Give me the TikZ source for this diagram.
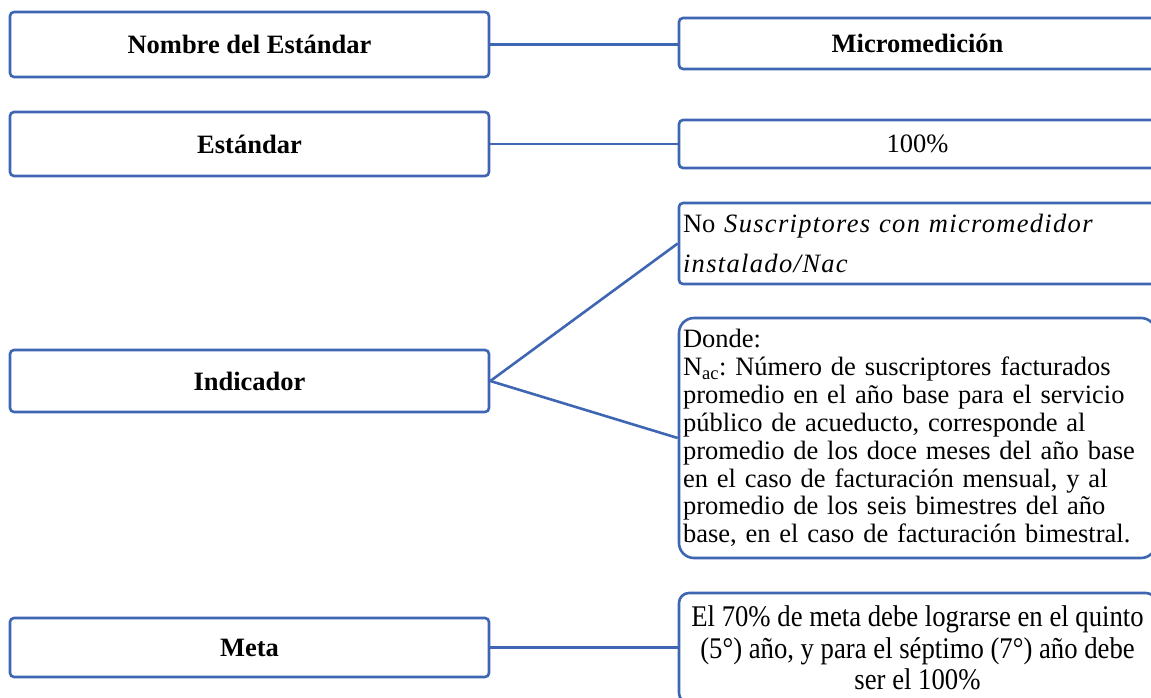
\documentclass[tikz,border=0pt]{standalone}
\usepackage{fontspec}
\setmainfont{Liberation Serif}
\newfontfamily\narrowfont[FakeStretch=0.89]{Liberation Serif}
\newfontfamily\spacedit[LetterSpace=5]{Liberation Serif}
\definecolor{boxblue}{HTML}{3F66B2}
\frenchspacing
\begin{document}
\begin{tikzpicture}[x=1pt,y=-1pt,
  box/.style={draw=boxblue, line width=2.6pt, rounded corners=4pt, fill=white,
    inner sep=0pt, font=\fontsize{26.5}{28}\selectfont},
  lbox/.style={box, minimum width=479pt},
  rbox/.style={box, minimum width=477pt},
  link/.style={draw=boxblue, line width=2.6pt}]
\useasboundingbox (0,0) rectangle (1151,698);
% left column
\node[lbox, minimum height=65pt] (n1) at (249.5,44.5) {\bfseries Nombre del Estándar};
\node[lbox, minimum height=64pt] (n2) at (249.5,144) {\bfseries Estándar};
\node[lbox, minimum height=62pt] (n3) at (249.5,381) {\bfseries Indicador};
\node[lbox, minimum height=59pt] (n4) at (249.5,647.5) {\bfseries Meta};
% right column
\node[rbox, minimum height=51pt] (r1) at (917.5,43.5) {\bfseries Micromedición};
\node[rbox, minimum height=48pt] (r2) at (917.5,144) {100\%};
\node[rbox, minimum height=81pt, text width=469pt, inner xsep=4pt, align=left,
  font=\fontsize{26.5}{40}\selectfont] (r3) at (917.5,243.5)
  {No {\spacedit\itshape Suscriptores con micromedidor}\\{\spacedit\itshape instalado/Nac}};
\node[rbox, rounded corners=15pt, minimum height=240pt, text width=469pt, inner xsep=4pt, align=left,
  font=\fontsize{26.5}{27.9}\selectfont\frenchspacing] (r4) at (917.5,438)
  {Donde:\\N\textsubscript{ac}: Número de suscriptores facturados\\promedio en el año base para el servicio\\público de acueducto, corresponde al\\promedio de los doce meses del año base\\en el caso de facturación mensual, y al\\promedio de los seis bimestres del año\\base, en el caso de facturación bimestral.};
\node[rbox, rounded corners=10pt, minimum height=110pt, align=center,
  font=\narrowfont\fontsize{30}{31.5}\selectfont] (r5) at (917.5,648)
  {El 70\% de meta debe lograrse en el quinto\\(5°) año, y para el séptimo (7°) año debe\\ser el 100\%};
% connectors
\draw[link] (n1.east) -- (n1.east -| r1.west);
\draw[link] (n2.east) -- (n2.east -| r2.west);
\draw[link] (n3.east) -- (r3.west);
\draw[link] (n3.east) -- (r4.west);
\draw[link] (n4.east) -- (n4.east -| r5.west);
\end{tikzpicture}
\end{document}
